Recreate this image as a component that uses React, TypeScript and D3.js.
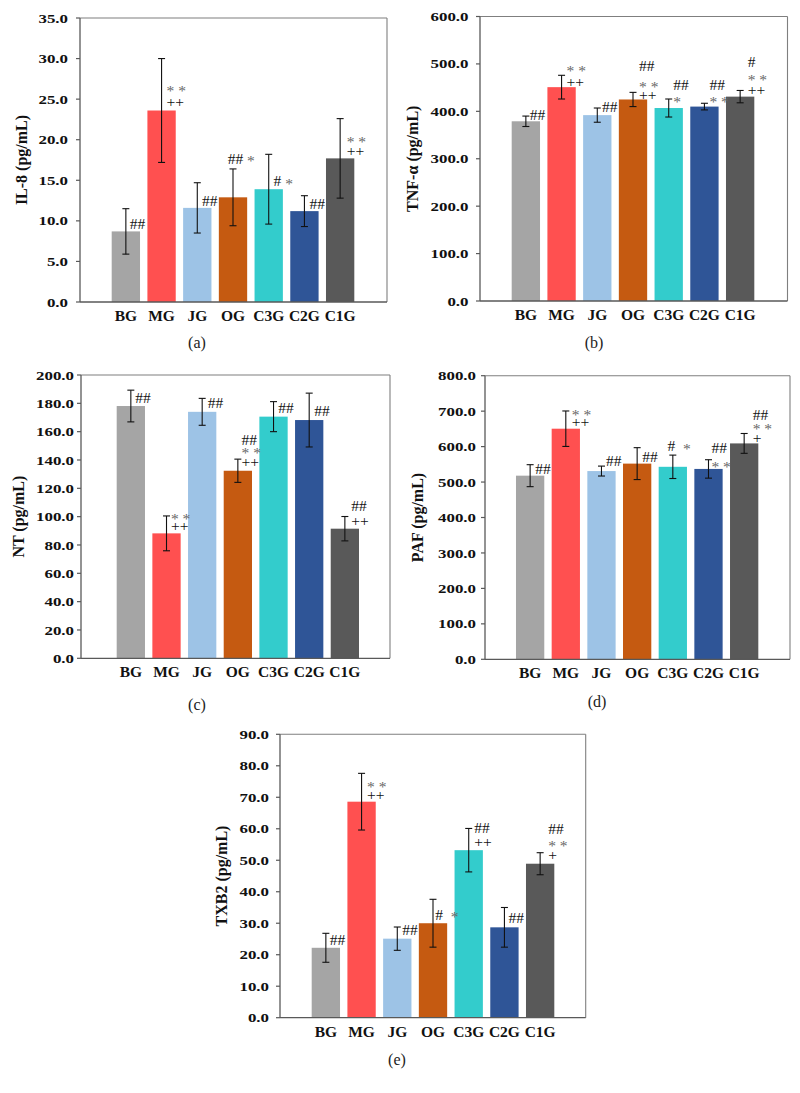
import React from 'react';
import * as d3 from 'd3';

const categories = ['BG', 'MG', 'JG', 'OG', 'C3G', 'C2G', 'C1G'];
const barColors = ['#A5A5A5', '#FF5050', '#9DC3E6', '#C55A11', '#33CCCC', '#2F5597', '#595959'];

// (a) IL-8
const il8Values = [8.7, 23.6, 11.6, 12.9, 13.9, 11.2, 17.7];
const il8Errors = [2.8, 6.4, 3.1, 3.5, 4.3, 1.9, 4.9];
const il8Ticks = [0, 5, 10, 15, 20, 25, 30, 35];
const il8Marks: [string, number][][] = [
  [['##', 9.7]],
  [['* *', 26.3], ['++', 24.7]],
  [['##', 12.5]],
  [['## *', 17.7]],
  [['# *', 14.95]],
  [['##', 12.2]],
  [['* *', 20.0], ['++', 18.7]],
];

// (b) TNF-α
const tnfValues = [379, 451, 392, 425, 407, 410, 431];
const tnfErrors = [11, 25, 15, 15, 19, 7, 13];
const tnfTicks = [0, 100, 200, 300, 400, 500, 600];
const tnfMarks: [string, number][][] = [
  [['##', 394]],
  [['* *', 490], ['++', 463.5]],
  [['##', 410]],
  [['##', 496], ['* *', 455.7], ['++', 434.6]],
  [['##', 455.7], ['*', 424]],
  [['##', 455.7], ['* *', 425.5]],
  [['#', 505], ['* *', 472], ['++', 445]],
];

// (c) NT
const ntValues = [178.1, 88.2, 174.0, 132.4, 170.6, 168.2, 91.5];
const ntErrors = [11.2, 12.3, 9.5, 8.2, 10.6, 19.0, 8.6];
const ntTicks = [0, 20, 40, 60, 80, 100, 120, 140, 160, 180, 200];
const ntMarks: [string, number][][] = [
  [['##', 184.2]],
  [['* *', 100.4], ['++', 93.6]],
  [['##', 180.4]],
  [['##', 154.8], ['* *', 146.5], ['++', 138.8]],
  [['##', 177.2]],
  [['##', 174.6]],
  [['##', 108.2], ['++', 97.6]],
];

// (d) PAF
const pafValues = [518, 650.5, 531, 552, 543, 537, 609];
const pafErrors = [31, 50, 14, 45, 33, 26, 28];
const pafTicks = [0, 100, 200, 300, 400, 500, 600, 700, 800];
const pafMarks: [string, number][][] = [
  [['##', 538.8]],
  [['* *', 696.7], ['++', 670.3]],
  [['##', 559.4]],
  [['##', 572.6]],
  [['#  *', 601.7]],
  [['##', 598], ['* *', 550]],
  [['##', 691], ['* *', 656], ['+', 625]],
];

// (e) TXB2
const txbValues = [22.2, 68.6, 25.1, 30.0, 53.2, 28.7, 48.9];
const txbErrors = [4.6, 9.0, 3.7, 7.6, 6.9, 6.3, 3.5];
const txbTicks = [0, 10, 20, 30, 40, 50, 60, 70, 80, 90];
const txbMarks: [string, number][][] = [
  [['##', 24.7]],
  [['* *', 74.2], ['++', 71]],
  [['##', 28.1]],
  [['#  *', 32.8]],
  [['##', 60.5], ['++', 55.8]],
  [['##', 31.8]],
  [['##', 60.1], ['* *', 55.4], ['+', 51.9]],
];

type Panel = {
  title: string;
  label: string;
  values: number[];
  errors: number[];
  ticks: number[];
  marks: [string, number][][];
  frame: { l: number; t: number; r: number; b: number };
  band: [number, number];
  titleX: number;
  tickRight: number;
  labelX: number;
  labelY: number;
  dx: number[];
};

const panels: Panel[] = [
  {
    title: 'IL-8 (pg/mL)', label: '(a)', values: il8Values, errors: il8Errors, ticks: il8Ticks, marks: il8Marks,
    frame: { l: 80, t: 18, r: 387, b: 302 }, band: [108, 358], titleX: 27, tickRight: 68,
    labelX: 197, labelY: 348, dx: [4, 5, 4.7, -5.3, 4.8, 5, 6.5],
  },
  {
    title: 'TNF-α (pg/mL)', label: '(b)', values: tnfValues, errors: tnfErrors, ticks: tnfTicks, marks: tnfMarks,
    frame: { l: 480, t: 16.5, r: 787.5, b: 301 }, band: [508, 758], titleX: 418, tickRight: 468.5,
    labelX: 594, labelY: 348, dx: [4, 5, 4.7, 6, 4.5, 5, 7.5],
  },
  {
    title: 'NT (pg/mL)', label: '(c)', values: ntValues, errors: ntErrors, ticks: ntTicks, marks: ntMarks,
    frame: { l: 81, t: 375, r: 390, b: 658.3 }, band: [113, 362.7], titleX: 23.5, tickRight: 74,
    labelX: 197, labelY: 710, dx: [4.3, 4.4, 5.5, 3.7, 4.8, 5, 6.5],
  },
  {
    title: 'PAF (pg/mL)', label: '(d)', values: pafValues, errors: pafErrors, ticks: pafTicks, marks: pafMarks,
    frame: { l: 485, t: 375.7, r: 790, b: 659.3 }, band: [512.3, 762], titleX: 422.5, tickRight: 476,
    labelX: 597, labelY: 707, dx: [5, 6, 4.5, 5, -5.3, 3, 8.5],
  },
  {
    title: 'TXB2 (pg/mL)', label: '(e)', values: txbValues, errors: txbErrors, ticks: txbTicks, marks: txbMarks,
    frame: { l: 280, t: 734.3, r: 585.7, b: 1017.7 }, band: [308, 558], titleX: 227, tickRight: 269,
    labelX: 397, labelY: 1065, dx: [4, 5.5, 5, 2.2, 5.5, 4, 8],
  },
];

const SERIF = '"Liberation Serif", "Times New Roman", serif';
const fmt = d3.format('.1f');

function MarkLine({ text, x, y }: { text: string; x: number; y: number }) {
  const fs = 15.5;
  const segs: { s: string; star: boolean }[] = [];
  for (const ch of text) {
    const star = ch === '*';
    const last = segs[segs.length - 1];
    if (ch === ' ' && last) { last.s += ch; continue; }
    if (last && last.star === star) last.s += ch;
    else segs.push({ s: ch, star });
  }
  const allStar = segs.every((s) => s.star);
  const base = allStar ? y + 7.5 : y + 5.5;
  let cur = 0;
  return (
    <text x={x} y={base} fontFamily={SERIF} fontSize={fs} style={{ whiteSpace: 'pre' }}>
      {segs.map((sg, i) => {
        const target = sg.star ? 2.5 : 0;
        const shift = allStar ? 0 : target - cur;
        if (!allStar) cur = target;
        return (
          <tspan key={i} dy={shift} fill={sg.star ? '#666666' : '#111'}>
            {sg.s}
          </tspan>
        );
      })}
    </text>
  );
}

function PanelChart({ p }: { p: Panel }) {
  const { l, t, r, b } = p.frame;
  const ymax = p.ticks[p.ticks.length - 1];
  const y = d3.scaleLinear().domain([0, ymax]).range([b, t]);
  const x = d3.scaleBand<string>().domain(categories).range(p.band).paddingInner(0.207).paddingOuter(0.1035);
  const bw = x.bandwidth();
  const midY = (t + b) / 2;
  return (
    <g>
      <line x1={l} x2={r} y1={t} y2={t} stroke="#7f7f7f" strokeWidth={1.1} />
      <line x1={r} x2={r} y1={t} y2={b} stroke="#7f7f7f" strokeWidth={1.1} />
      {categories.map((c, i) => (
        <rect key={c} x={x(c)} y={y(p.values[i])} width={bw} height={b - y(p.values[i])} fill={barColors[i]} />
      ))}
      <line x1={l} x2={l} y1={t} y2={b} stroke="#595959" strokeWidth={1.3} />
      <line x1={l} x2={r} y1={b} y2={b} stroke="#595959" strokeWidth={1.3} />
      {p.ticks.map((v) => (
        <g key={v}>
          <line x1={l - 4} x2={l} y1={y(v)} y2={y(v)} stroke="#595959" strokeWidth={1.2} />
          <text
            transform={`translate(${p.tickRight},${y(v)}) scale(1.3,1)`}
            textAnchor="end"
            dy="0.35em"
            fontFamily={SERIF}
            fontWeight="bold"
            fontSize={13}
            fill="#111"
          >
            {fmt(v)}
          </text>
        </g>
      ))}
      {categories.map((c, i) => {
        const cx = (x(c) as number) + bw / 2;
        const hi = y(p.values[i] + p.errors[i]);
        const lo = y(p.values[i] - p.errors[i]);
        return (
          <g key={c} stroke="#111" strokeWidth={1.1}>
            <line x1={cx} x2={cx} y1={hi} y2={lo} />
            <line x1={cx - 3.5} x2={cx + 3.5} y1={hi} y2={hi} />
            <line x1={cx - 3.5} x2={cx + 3.5} y1={lo} y2={lo} />
          </g>
        );
      })}
      {categories.map((c, i) => {
        const cx = (x(c) as number) + bw / 2;
        return p.marks[i].map(([txt, v], j) => (
          <MarkLine key={c + j} text={txt} x={cx + p.dx[i]} y={y(v)} />
        ));
      })}
      {categories.map((c) => (
        <text
          key={c}
          x={(x(c) as number) + bw / 2}
          y={b + 19}
          textAnchor="middle"
          fontFamily={SERIF}
          fontWeight="bold"
          fontSize={15.5}
          fill="#111"
        >
          {c}
        </text>
      ))}
      <text
        transform={`translate(${p.titleX},${midY}) rotate(-90)`}
        textAnchor="middle"
        fontFamily={SERIF}
        fontWeight="bold"
        fontSize={16}
        fill="#111"
      >
        {p.title}
      </text>
      <text x={p.labelX} y={p.labelY} textAnchor="middle" fontFamily={SERIF} fontSize={16} fill="#222">
        {p.label}
      </text>
    </g>
  );
}

export default function App() {
  return (
    <svg
      width={800}
      height={1093}
      viewBox="0 0 800 1093"
      style={{ position: 'absolute', left: 0, top: 0, background: '#fff' }}
    >
      <rect x={0} y={0} width={800} height={1093} fill="#fff" />
      {panels.map((p) => (
        <PanelChart key={p.label} p={p} />
      ))}
    </svg>
  );
}
